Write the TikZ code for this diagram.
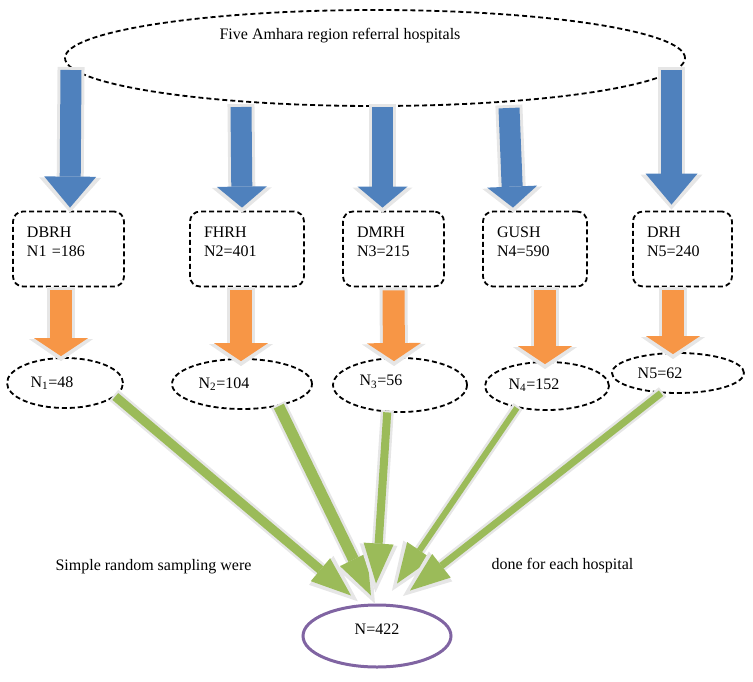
\documentclass[tikz,border=0pt]{standalone}
\usepackage{fontspec}
\setmainfont{Liberation Serif}
\usetikzlibrary{shapes.geometric,arrows.meta}
\definecolor{hospblue}{HTML}{4F81BD}
\definecolor{samporange}{HTML}{F79646}
\definecolor{sumgreen}{HTML}{9BBB59}
\definecolor{totpurple}{HTML}{8064A2}
\definecolor{rimgray}{HTML}{E6E6E6}
\tikzset{
  dashline/.style={draw=black, line width=1.8pt, dash pattern=on 5pt off 3pt},
  hospbox/.style={dashline, rectangle, rounded corners=10pt, minimum height=75pt,
    inner xsep=14pt, align=left, text depth=34pt},
  sampell/.style={dashline, ellipse, inner sep=0pt},
  bluelong/.style={draw=hospblue, line width=21pt,
    -{Triangle[width=52pt,length=31pt,line width=0pt]},
    preaction={draw=rimgray, line width=27pt, shorten <=-3pt, shorten >=-5pt,
      -{Triangle[width=62pt,length=35pt,line width=0pt]}}},
  blueshort/.style={draw=hospblue, line width=21pt,
    -{Triangle[width=50pt,length=21pt,line width=0pt]},
    preaction={draw=rimgray, line width=27pt, shorten <=-3pt, shorten >=-5pt,
      -{Triangle[width=60pt,length=25pt,line width=0pt]}}},
  samparr/.style={draw=samporange, line width=22pt,
    -{Triangle[width=54pt,length=18pt,line width=0pt]},
    preaction={draw=rimgray, line width=28pt, shorten <=-3pt, shorten >=-5pt,
      -{Triangle[width=64pt,length=22pt,line width=0pt]}}},
  greenarr/.style={draw=sumgreen, line width=#1,
    -{Triangle[width=30pt,length=40pt,line width=0pt]},
    preaction={draw=rimgray, line width=#1+5pt, shorten <=-2pt, shorten >=-9pt,
      -{Triangle[width=38pt,length=48pt,line width=0pt]}}},
}
\begin{document}
\begin{tikzpicture}[x=1pt,y=-1pt,font=\fontsize{16}{19}\selectfont]
\useasboundingbox (0,0) rectangle (753,681);
%%% the five hospitals
\node[sampell, minimum width=620pt, minimum height=96pt,
  label={[xshift=-35pt,yshift=22pt]center:Five Amhara region referral hospitals}] (hosp) at (375,58) {};
\node[hospbox, text width=83pt] (box1) at (68.5,249) {DBRH\\N1 =186};
\node[hospbox, text width=86pt] (box2) at (247,249) {FHRH\\N2=401};
\node[hospbox, text width=73pt] (box3) at (393.5,249) {DMRH\\N3=215};
\node[hospbox, text width=76pt] (box4) at (535,249) {GUSH\\N4=590};
\node[hospbox, text width=71pt] (box5) at (682.5,249) {DRH\\N5=240};
%%% samples taken from each hospital
\node[sampell, minimum width=116pt, minimum height=50pt,
  label={[xshift=-13pt]center:N\textsubscript{1}=48}] (e1) at (65,383) {};
\node[sampell, minimum width=140pt, minimum height=50pt,
  label={[xshift=-18pt]center:N\textsubscript{2}=104}] (e2) at (242,384) {};
\node[sampell, minimum width=134pt, minimum height=54pt,
  label={[xshift=-19pt,yshift=3pt]center:N\textsubscript{3}=56}] (e3) at (400,385) {};
\node[sampell, minimum width=124pt, minimum height=48pt,
  label={[xshift=-13pt,yshift=1pt]center:N\textsubscript{4}=152}] (e4) at (547,386) {};
\node[sampell, minimum width=132pt, minimum height=40pt,
  label={[xshift=-18pt]center:N5=62}] (e5) at (678,373) {};
%%% total sample
\node[ellipse, draw=totpurple, line width=3pt, minimum width=148pt, minimum height=62pt,
  label={[yshift=7pt]center:N=422}] (sum) at (377,636) {};
\node (srsleft) at (153.5,567) {Simple random sampling were};
\node (srsright) at (562.5,566) {done for each hospital};
%%% blue arrows: hospitals -> boxes
\coordinate (b1) at (71,70);
\coordinate (b2) at (241,107);
\coordinate (b3) at (382.5,107);
\coordinate (b4) at (509,108);
\coordinate (b5) at (671.5,70);
\draw[bluelong] (b1) -- ([xshift=1.5pt,yshift=3pt]box1.north);
\draw[blueshort] (b2) -- ([xshift=-5pt,yshift=3pt]box2.north);
\draw[blueshort] (b3) -- ([xshift=-11pt,yshift=3pt]box3.north);
\draw[blueshort] (b4) -- ([xshift=-22pt,yshift=3pt]box4.north);
\draw[bluelong] (b5) -- ([xshift=-11pt,yshift=6pt]box5.north);
%%% orange arrows: boxes -> samples
\draw[samparr] ([xshift=-7.5pt,yshift=-3pt]box1.south) -- ([xshift=-4pt,yshift=1pt]e1.north);
\draw[samparr] ([xshift=-6pt,yshift=-3pt]box2.south) -- ([xshift=-1pt,yshift=-3pt]e2.north);
\draw[samparr] ([yshift=-3pt]box3.south) -- ([xshift=-6pt,yshift=-4pt]e3.north);
\draw[samparr] ([xshift=10pt,yshift=-3pt]box4.south) -- ([xshift=-2pt,yshift=-3pt]e4.north);
\draw[samparr] ([xshift=-9.5pt,yshift=-3pt]box5.south) -- ([xshift=-5pt,yshift=-2pt]e5.north);
%%% green arrows: samples -> total
\draw[greenarr=9pt] (e1.-15) -- ([xshift=-26pt,yshift=8pt]sum.north);
\draw[greenarr=11pt] (e2.-31) -- ([xshift=-6pt,yshift=8pt]sum.north);
\draw[greenarr=8pt] (e3.-115) -- ([xshift=-1pt,yshift=20pt]sum.north);
\draw[greenarr=6pt] (e4.-144) -- ([xshift=20pt,yshift=20pt]sum.north);
\draw[greenarr=7pt] (e5.-130) -- ([xshift=33pt,yshift=13pt]sum.north);
\end{tikzpicture}
\end{document}
